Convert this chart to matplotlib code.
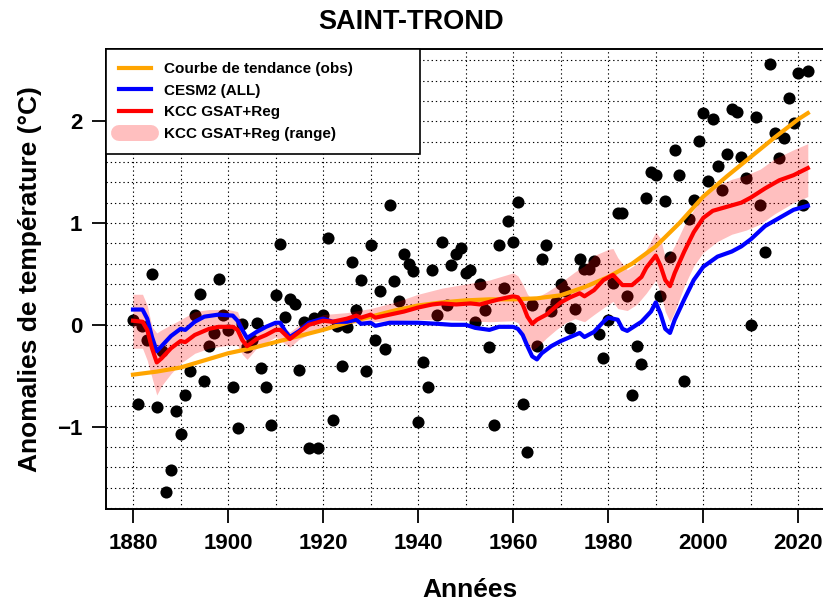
import matplotlib
matplotlib.use('Agg')
import matplotlib.pyplot as plt
from matplotlib.lines import Line2D
import numpy as np

# observed annual anomalies (black dots), 1880-2022
obs_years = np.arange(1880, 2023)
obs_vals = [0.05, -0.78, -0.01, -0.15, 0.50, -0.81, -0.26, -1.64, -1.43, -0.85,
            -1.07, -0.69, -0.45, 0.10, 0.30, -0.55, -0.21, -0.08, 0.45, 0.10,
            -0.05, -0.61, -1.01, 0.01, -0.22, -0.15, 0.02, -0.42, -0.61, -0.98,
            0.29, 0.79, 0.08, 0.25, 0.20, -0.44, 0.03, -1.21, 0.07, -1.21,
            0.10, 0.85, -0.94, -0.01, -0.40, -0.02, 0.62, 0.15, 0.44, -0.45,
            0.78, -0.15, 0.33, -0.24, 1.18, 0.43, 0.23, 0.70, 0.60, 0.53,
            -0.96, -0.37, -0.61, 0.54, 0.10, 0.81, 0.19, 0.59, 0.70, 0.75,
            0.51, 0.54, 0.03, 0.40, 0.15, -0.22, -0.98, 0.78, 0.36, 1.02,
            0.81, 1.21, -0.78, -1.25, 0.19, -0.21, 0.65, 0.78, 0.14, 0.22,
            0.40, 0.33, -0.03, 0.16, 0.65, 0.55, 0.55, 0.63, -0.09, -0.33,
            0.05, 0.41, 1.10, 1.10, 0.28, -0.69, -0.21, -0.39, 1.25, 1.50,
            1.47, 0.28, 1.22, 0.67, 1.72, 1.47, -0.55, 1.04, 1.23, 1.81,
            2.08, 1.41, 2.02, 1.56, 1.32, 1.68, 2.12, 2.09, 1.65, 1.44,
            0.00, 2.04, 1.18, 0.72, 2.56, 1.88, 1.64, 1.84, 2.23, 1.98,
            2.47, 1.18, 2.49]

# trend curve (obs)
trend_years = [1880, 1885, 1890, 1895, 1900, 1905, 1910, 1915, 1920, 1925,
               1930, 1935, 1940, 1945, 1950, 1955, 1960, 1965, 1970, 1975,
               1980, 1985, 1990, 1995, 2000, 2005, 2010, 2015, 2020, 2022]
trend_vals = [-0.49, -0.46, -0.42, -0.35, -0.28, -0.23, -0.17, -0.11, -0.05, 0.02,
              0.08, 0.14, 0.19, 0.22, 0.24, 0.25, 0.25, 0.26, 0.29, 0.37,
              0.47, 0.60, 0.77, 1.00, 1.26, 1.46, 1.65, 1.84, 2.02, 2.08]

# CESM2 (ALL)
cesm_years = [1880, 1882, 1883, 1884, 1885, 1886, 1888, 1890, 1891, 1893,
              1895, 1898, 1901, 1902, 1903, 1904, 1905, 1906, 1908, 1910,
              1911, 1912, 1913, 1915, 1917, 1920, 1922, 1925, 1927, 1928,
              1930, 1931, 1934, 1940, 1944, 1947, 1950, 1952, 1955, 1957,
              1960, 1961, 1962, 1963, 1964, 1965, 1966, 1968, 1970, 1972,
              1974, 1975, 1977, 1979, 1980, 1982, 1983, 1984, 1985, 1987,
              1989, 1990, 1991, 1992, 1993, 1994, 1996, 1998, 2000, 2003,
              2006, 2008, 2010, 2013, 2016, 2019, 2022]
cesm_vals = [0.15, 0.15, 0.06, -0.12, -0.26, -0.21, -0.11, -0.04, -0.05, 0.03,
             0.08, 0.10, 0.09, 0.04, -0.05, -0.13, -0.10, -0.07, -0.02, 0.02,
             0.02, -0.06, -0.12, -0.06, 0.02, 0.06, 0.03, 0.03, 0.05, 0.01,
             0.02, -0.01, 0.02, 0.02, 0.01, 0.00, 0.00, -0.03, -0.05, -0.02,
             -0.02, -0.04, -0.10, -0.21, -0.31, -0.34, -0.28, -0.21, -0.16, -0.12,
             -0.08, -0.12, -0.07, 0.03, 0.07, 0.05, -0.04, -0.06, -0.03, 0.03,
             0.13, 0.22, 0.11, -0.04, -0.08, 0.05, 0.25, 0.44, 0.57, 0.67,
             0.72, 0.77, 0.84, 0.97, 1.05, 1.13, 1.17]

# KCC GSAT+Reg
kcc_years = [1880, 1882, 1883, 1884, 1885, 1886, 1888, 1890, 1891, 1893,
             1896, 1898, 1901, 1902, 1903, 1904, 1906, 1908, 1910, 1911,
             1913, 1915, 1917, 1920, 1922, 1925, 1927, 1928, 1930, 1931,
             1934, 1937, 1940, 1943, 1945, 1948, 1951, 1953, 1957, 1960,
             1961, 1962, 1963, 1964, 1965, 1967, 1969, 1970, 1972, 1974,
             1975, 1977, 1979, 1981, 1982, 1983, 1985, 1987, 1988, 1990,
             1991, 1992, 1993, 1994, 1996, 1998, 2000, 2002, 2005, 2008,
             2010, 2013, 2016, 2019, 2022]
kcc_vals = [0.04, 0.03, -0.05, -0.23, -0.37, -0.33, -0.23, -0.16, -0.17, -0.10,
            -0.04, -0.02, -0.02, -0.05, -0.15, -0.21, -0.14, -0.10, -0.05, -0.05,
            -0.14, -0.07, 0.00, 0.04, 0.03, 0.06, 0.09, 0.07, 0.10, 0.07,
            0.10, 0.13, 0.17, 0.20, 0.21, 0.20, 0.21, 0.20, 0.25, 0.28,
            0.27, 0.20, 0.08, 0.01, 0.05, 0.10, 0.18, 0.22, 0.27, 0.31,
            0.28, 0.34, 0.44, 0.49, 0.44, 0.39, 0.39, 0.47, 0.56, 0.68,
            0.58, 0.44, 0.38, 0.51, 0.72, 0.91, 1.05, 1.12, 1.16, 1.20,
            1.25, 1.34, 1.42, 1.47, 1.54]

# KCC GSAT+Reg range
band_years = [1880, 1882, 1883, 1884, 1885, 1886, 1888, 1890, 1893, 1896,
              1900, 1902, 1903, 1904, 1906, 1910, 1913, 1915, 1920, 1925,
              1930, 1935, 1940, 1945, 1950, 1955, 1960, 1961, 1962, 1963,
              1964, 1965, 1967, 1969, 1971, 1973, 1975, 1977, 1980, 1981,
              1982, 1984, 1986, 1988, 1990, 1991, 1992, 1993, 1994, 1996,
              1998, 2000, 2003, 2006, 2009, 2012, 2015, 2019, 2022]
band_high = [0.30, 0.30, 0.19, -0.02, -0.08, -0.05, 0.00, 0.05, 0.13, 0.15,
             0.15, 0.13, 0.00, -0.12, -0.08, 0.02, -0.07, 0.00, 0.10, 0.12,
             0.16, 0.22, 0.30, 0.36, 0.40, 0.44, 0.51, 0.48, 0.40, 0.30,
             0.25, 0.27, 0.32, 0.38, 0.45, 0.52, 0.58, 0.68, 0.74, 0.75,
             0.66, 0.54, 0.60, 0.74, 0.91, 0.85, 0.66, 0.70, 0.78, 0.98,
             1.13, 1.26, 1.37, 1.43, 1.47, 1.53, 1.63, 1.72, 1.78]
band_low = [-0.23, -0.23, -0.35, -0.52, -0.69, -0.60, -0.48, -0.38, -0.28, -0.23,
            -0.20, -0.20, -0.29, -0.34, -0.23, -0.12, -0.22, -0.14, -0.03, 0.01,
            0.03, 0.04, 0.05, 0.05, 0.04, 0.03, 0.04, 0.02, -0.08, -0.20,
            -0.25, -0.22, -0.13, -0.05, 0.02, 0.06, 0.03, 0.10, 0.20, 0.23,
            0.16, 0.14, 0.20, 0.31, 0.44, 0.32, 0.13, 0.03, 0.13, 0.38,
            0.58, 0.71, 0.82, 0.89, 0.93, 0.99, 1.09, 1.20, 1.26]

x_ticks = [1880, 1900, 1920, 1940, 1960, 1980, 2000, 2020]
y_ticks = [-1, 0, 1, 2]
labels = ['Courbe de tendance (obs)', 'CESM2 (ALL)', 'KCC GSAT+Reg',
          'KCC GSAT+Reg (range)']

plt.rcParams['font.family'] = ['Liberation Sans', 'DejaVu Sans']
plt.rcParams['font.weight'] = 'bold'

fig = plt.figure(figsize=(8.23, 6.02), dpi=100)
# plot box runs past the right edge of the picture, like the original
ax = fig.add_axes([106 / 823, 93 / 602, 728.8 / 823, 460 / 602])

dots = (0, (1.2, 2.6))
for yr in range(1880, 2021, 10):
    ax.axvline(yr, color='black', lw=0.8, ls=dots, zorder=1)
for h in np.arange(-1.8, 2.7, 0.2):
    ax.axhline(h, color='black', lw=0.8, ls=dots, zorder=1)

ax.scatter(obs_years, obs_vals, s=76, color='black', linewidths=0, zorder=2)
ax.fill_between(band_years, band_low, band_high, color='red', alpha=0.25,
                lw=0, zorder=3)
ax.plot(trend_years, trend_vals, color='orange', lw=3, zorder=4)
ax.plot(cesm_years, cesm_vals, color='blue', lw=3, zorder=5)
ax.plot(kcc_years, kcc_vals, color='red', lw=3, zorder=6)

ax.set_xlim(1874.32, 2027.68)
ax.set_ylim(-1.81, 2.71)
ax.set_xticks(x_ticks)
ax.set_yticks(y_ticks)
ax.tick_params(direction='out', length=10, width=1.3, labelsize=16, pad=7)
for s in ax.spines.values():
    s.set_linewidth(1.4)

handles = [Line2D([], [], color='orange', lw=3),
           Line2D([], [], color='blue', lw=3),
           Line2D([], [], color='red', lw=3),
           Line2D([], [], color='red', alpha=0.25, lw=11.5,
                  solid_capstyle='round')]
leg = ax.legend(handles, labels, loc='upper left',
                bbox_to_anchor=(0, 1, 0.431, 0), mode='expand',
                borderaxespad=0, fancybox=False, framealpha=1,
                edgecolor='black', fontsize=11, borderpad=0.85,
                labelspacing=0.5, handlelength=2.1, handletextpad=0.85)
leg.get_frame().set_linewidth(1.2)
leg.set_zorder(10)

fig.suptitle('SAINT-TROND', x=0.5, y=1 - 22 / 602, va='center',
             fontsize=19.5, fontweight='bold')
fig.text(470 / 823, 1 - 590 / 602, 'Années', ha='center', va='center',
         fontsize=19, fontweight='bold')
fig.text(30 / 823, 1 - 279 / 602, 'Anomalies de température (°C)',
         rotation=90, ha='center', va='center', fontsize=19, fontweight='bold')

fig.savefig('out.png', dpi=100)
